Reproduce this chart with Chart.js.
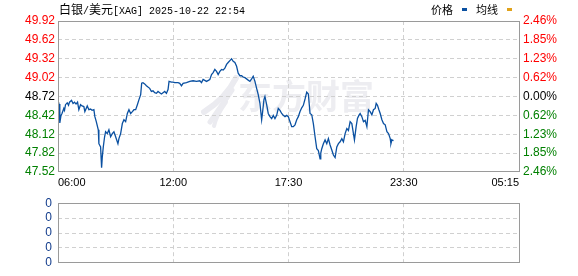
<!DOCTYPE html>
<html><head><meta charset="utf-8">
<script src="https://cdn.jsdelivr.net/npm/chart.js@4/dist/chart.umd.min.js"></script>
<style>
html,body{margin:0;padding:0;background:#fff;}
#wrap{position:relative;width:578px;height:276px;overflow:hidden;background:#fff;}
#c1{position:absolute;left:0;top:0;}
#c2{position:absolute;left:0;top:190px;}
.t{position:absolute;white-space:nowrap;color:#000;height:16px;line-height:16px;}
.cjk{font-family:"Noto Sans CJK SC",sans-serif;font-size:12px;}
.mono{font-family:"Liberation Mono",monospace;font-size:10px;}
.sw{display:inline-block;width:5px;height:3px;vertical-align:middle;margin:0 9px 2px 9px;}
</style></head><body>
<div id="wrap">
<canvas id="c1" width="578" height="192"></canvas>
<canvas id="c2" width="578" height="86"></canvas>
<div class="t" style="left:59px;top:1px;"><span class="cjk">白银</span><span class="mono">/</span><span class="cjk">美元</span><span class="mono">[XAG] 2025-10-22 22:54</span></div>
<div class="t" style="left:431px;top:1px;"><span class="cjk" style="font-size:11px">价格</span><span class="sw" style="background:#0a50a1"></span><span class="cjk" style="font-size:11px">均线</span><span class="sw" style="background:#e0a21a"></span></div>
</div>
<script>
// ---- data ----
const timeLabels = ['06:00', '12:00', '17:30', '23:30', '05:15'];
const timeSlots = [0, 115, 230, 345, 460];           // slot index of each time label (equal-width sessions)
const priceTicks = [49.92, 49.62, 49.32, 49.02, 48.72, 48.42, 48.12, 47.82, 47.52];
const pctLabels = ['2.46%', '1.85%', '1.23%', '0.62%', '0.00%', '0.62%', '1.23%', '1.85%', '2.46%'];
const prevClose = 48.72;
const volTickLabels = ['0', '0', '0', '0', '0'];
const priceX = [0,1,1.8,3,4,5.8,6.5,7.5,9.2,10.5,11.5,13.5,15,16.5,18,19.5,20.8,22.5,24,25.8,26.8,29.2,30.8,32.5,34,35.8,36.8,38.2,40.2,40.8,42.5,43.5,44.2,45.2,46.5,47.5,49.2,50.8,52.5,54.2,55.8,57.5,59.8,60.8,62.5,64.2,65.8,67.5,69.2,70.8,72.5,74.2,75.8,77.5,79.2,80.8,82.5,83.5,84.8,86.5,88.2,89.8,91.5,93.2,94.8,96.5,98.2,99.8,101.5,103.2,104.8,106.5,108.2,109.8,110.8,113.2,114.8,116.5,119.8,121.5,123.2,124.8,128.2,131.5,134.8,138.2,141.5,143.2,144.8,148.2,151.5,153.2,154.8,156.5,158.2,159.8,161.5,163.2,164.8,166.5,168.2,169.8,171.5,173.2,174.8,176.5,178.2,179.8,181.5,183.2,184.8,186.5,188.2,189.8,191.5,193.2,194.8,196.5,198.2,199.8,201.5,203.2,204.2,205.5,206.5,208.2,209.8,211.5,213.2,214.8,216.5,218.2,219.8,221.5,223.2,224.8,226.5,228.2,229.8,231.5,233.2,234.8,236.5,238.2,239.8,241.5,243.2,244.8,246.5,248.2,249.8,251.5,253.2,254.8,256.5,258.2,259.8,261.5,262.2,263.2,264.8,266.5,268.2,269.8,271.5,273.2,274.8,276.5,278.2,279.8,281.5,283.2,284.8,286.5,288.2,289.8,291.5,293.2,294.8,295.8,297.5,298.8,300.2,301.5,303.2,304.8,306.5,308.2,309.8,311.5,313.2,314.8,316.5,317.5,318.8,320.2,321.5,323.2,324.8,326.5,328.2,329.8,331.5,332.2,333.2,334.8];
const priceY = [48.66,48.60,48.30,48.42,48.45,48.53,48.50,48.59,48.62,48.58,48.63,48.66,48.61,48.63,48.60,48.63,48.51,48.59,48.57,48.56,48.48,48.57,48.51,48.52,48.50,48.51,48.40,48.32,48.19,47.97,47.92,47.59,47.76,47.92,48.08,48.16,48.13,48.19,48.08,48.13,48.16,48.08,47.97,48.05,48.13,48.29,48.35,48.32,48.45,48.51,48.45,48.48,48.51,48.51,48.59,48.67,48.75,48.93,48.94,48.92,48.89,48.87,48.85,48.80,48.81,48.78,48.77,48.80,48.78,48.76,48.78,48.80,48.77,48.83,48.96,48.95,48.95,48.94,48.94,48.93,48.89,48.93,48.94,48.96,48.97,48.96,48.97,48.94,48.99,48.96,48.99,49.07,49.10,49.15,49.12,49.07,49.12,49.15,49.14,49.17,49.23,49.26,49.29,49.32,49.28,49.26,49.20,49.09,49.05,49.05,49.03,49.02,49.00,48.98,48.96,49.00,49.04,48.96,48.85,48.75,48.61,48.35,48.48,48.67,48.72,48.59,48.45,48.40,48.37,48.42,48.37,48.42,48.53,48.50,48.45,48.42,48.40,48.42,48.40,48.32,48.24,48.24,48.27,48.35,48.40,48.48,48.54,48.58,48.68,48.79,48.76,48.45,48.43,48.29,48.08,47.89,47.86,47.73,47.82,47.89,47.97,48.03,47.97,48.05,47.95,47.87,47.79,47.75,47.92,47.97,48.00,48.05,48.00,48.13,48.21,48.18,48.32,48.29,48.13,48.03,48.24,48.37,48.42,48.45,48.40,48.32,48.34,48.24,48.51,48.48,48.43,48.51,48.53,48.61,48.58,48.51,48.45,48.35,48.29,48.27,48.16,48.13,48.05,47.97,48.03,48.02];
const volX = [];
const volY = [];

// ---- helpers ----
const RED = '#ff0000', GREEN = '#008000', BLACK = '#000000';
const GRID = '#d0d0d0', FRAME = '#9a9a9a';
function priceColor(v) {
  if (Math.abs(v - prevClose) < 1e-6) return BLACK;
  return v > prevClose ? RED : GREEN;
}
function xy(xs, ys) { return xs.map((x, i) => ({ x: x, y: ys[i] })); }
function innerGrid(n) {
  return (ctx) => (ctx.index === 0 || ctx.index === n - 1) ? 'rgba(0,0,0,0)' : GRID;
}

const framePlugin = {
  id: 'frame',
  beforeDraw(chart, args, opts) {
    if (!opts.watermark) return;
    const c = chart.ctx;
    c.save();
    c.fillStyle = '#ededf1';
    c.strokeStyle = '#ebebf0';
    // swoosh logo
    c.lineCap = 'round';
    const strokes = [[236, 78, 226, 98, 204, 112, 6], [232, 90, 220, 108, 210, 122, 5], [226, 102, 216, 116, 214, 126, 4]];
    strokes.forEach(s => { c.lineWidth = s[6]; c.beginPath(); c.moveTo(s[0], s[1]); c.quadraticCurveTo(s[2], s[3], s[4], s[5]); c.stroke(); });
    c.font = 'bold 34px "Noto Sans CJK SC"';
    c.textBaseline = 'middle';
    c.textAlign = 'left';
    c.fillText('东方财富', 238, 96);
    c.restore();
  },
  afterDraw(chart) {
    const a = chart.chartArea, c = chart.ctx;
    c.save();
    c.strokeStyle = FRAME;
    c.lineWidth = 1;
    const l = Math.round(a.left) + 0.5, t = Math.round(a.top) + 0.5;
    const r = Math.round(a.right) + 0.5, b = Math.round(a.bottom) - 0.5;
    c.strokeRect(l, t, r - l, b - t);
    c.restore();
  }
};

const sans = 'Liberation Sans';

new Chart(document.getElementById('c1'), {
  type: 'line',
  data: {
    datasets: [{
      label: '价格',
      data: xy(priceX, priceY),
      borderColor: '#0a50a1',
      borderWidth: 1.3,
      pointRadius: 0,
      tension: 0,
      fill: false
    }]
  },
  options: {
    responsive: false, animation: false, devicePixelRatio: 1,
    layout: { padding: { top: 21, left: 0, right: 0, bottom: 0 } },
    plugins: { legend: { display: false }, tooltip: { enabled: false }, frame: { watermark: true } },
    scales: {
      x: {
        type: 'linear', min: 0, max: 460,
        afterBuildTicks: s => { s.ticks = timeSlots.map(v => ({ value: v })); },
        afterFit: s => { s.height = 20; },
        ticks: { autoSkip: false, maxRotation: 0, align: 'inner', padding: 4, color: '#000',
          font: { family: sans, size: 11 }, callback: (v, i) => timeLabels[i] },
        grid: { color: innerGrid(timeSlots.length), drawTicks: false, lineWidth: 1 },
        border: { display: false, dash: [4, 3] }
      },
      y: {
        position: 'left', min: priceTicks[priceTicks.length - 1], max: priceTicks[0],
        afterBuildTicks: s => { s.ticks = priceTicks.map(v => ({ value: v })); },
        afterFit: s => { s.width = 58; },
        ticks: { autoSkip: false, padding: 3, font: { family: sans, size: 12 },
          color: ctx => priceColor(ctx.tick.value), callback: v => v.toFixed(2) },
        grid: { color: innerGrid(priceTicks.length), drawTicks: false, lineWidth: 1 },
        border: { display: false, dash: [4, 3] }
      },
      y1: {
        position: 'right', min: priceTicks[priceTicks.length - 1], max: priceTicks[0],
        afterBuildTicks: s => { s.ticks = priceTicks.map(v => ({ value: v })); },
        afterFit: s => { s.width = 59; },
        ticks: { autoSkip: false, padding: 4, font: { family: sans, size: 12 },
          color: ctx => priceColor(priceTicks[ctx.index]), callback: (v, i) => pctLabels[i] },
        grid: { display: false, drawTicks: false },
        border: { display: false }
      }
    }
  },
  plugins: [framePlugin]
});

new Chart(document.getElementById('c2'), {
  type: 'line',
  data: { datasets: [{ label: '成交量', data: xy(volX, volY), borderColor: '#0a50a1', pointRadius: 0 }] },
  options: {
    responsive: false, animation: false, devicePixelRatio: 1,
    layout: { padding: { top: 6, left: 0, right: 59, bottom: 0 } },
    plugins: { legend: { display: false }, tooltip: { enabled: false }, frame: { watermark: false } },
    scales: {
      x: {
        type: 'linear', min: 0, max: 460,
        afterBuildTicks: s => { s.ticks = timeSlots.map(v => ({ value: v })); },
        afterFit: s => { s.height = 5; },
        ticks: { display: false, autoSkip: false },
        grid: { color: innerGrid(timeSlots.length), drawTicks: false, lineWidth: 1 },
        border: { display: false, dash: [4, 3] }
      },
      y: {
        position: 'left', min: 0, max: volTickLabels.length - 1,
        afterBuildTicks: s => { s.ticks = volTickLabels.map((t, i) => ({ value: i })); },
        afterFit: s => { s.width = 58; },
        ticks: { autoSkip: false, padding: 6, font: { family: sans, size: 12 }, color: '#123c8c',
          callback: (v, i) => volTickLabels[i] },
        grid: { color: innerGrid(volTickLabels.length), drawTicks: false, lineWidth: 1 },
        border: { display: false, dash: [4, 3] }
      }
    }
  },
  plugins: [framePlugin]
});
</script>
</body></html>
